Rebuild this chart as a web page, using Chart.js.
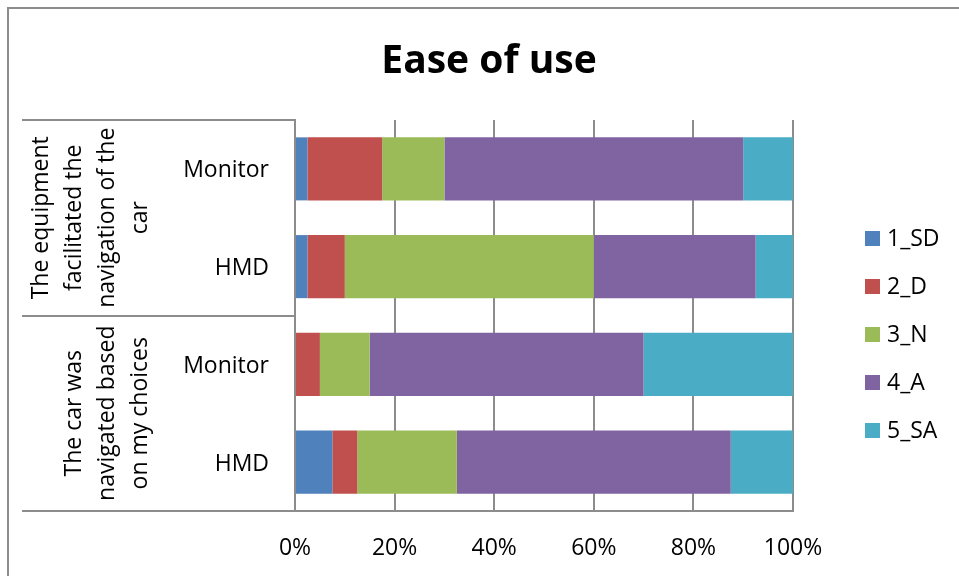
<!DOCTYPE html>
<html>
<head>
<meta charset="utf-8">
<script src="https://cdn.jsdelivr.net/npm/chart.js@4"></script>
<style>
  body { margin: 0; background: #fff; }
</style>
</head>
<body>
<canvas id="easeChart" width="959" height="576"></canvas>
<script>
// values in percent of respondents
var categories = ['Monitor', 'HMD', 'Monitor', 'HMD'];
var groupLabels = [
  ['The equipment', 'facilitated the', 'navigation of the', 'car'],
  ['The car was', 'navigated based', 'on my choices']
];
var seriesNames = ['1_SD', '2_D', '3_N', '4_A', '5_SA'];
var sd = [2.5, 2.5, 0, 7.5];
var dis = [15, 7.5, 5, 5];
var neu = [12.5, 50, 10, 20];
var agr = [60, 32.5, 55, 55];
var sa = [10, 7.5, 30, 12.5];
var xTicks = [0, 20, 40, 60, 80, 100];

var colors = ['#4F81BD', '#C0504D', '#9BBB59', '#8064A2', '#4BACC6'];
var font = '"Open Sans", sans-serif';
var lineColor = '#8c8c8c';

var extras = {
  id: 'extras',
  afterDraw: function(chart) {
    var c = chart.ctx, area = chart.chartArea, y = chart.scales.y;
    c.save();
    // outer frame
    c.strokeStyle = lineColor;
    c.lineWidth = 2;
    c.beginPath();
    c.moveTo(8, 1000); c.lineTo(8, 8); c.lineTo(1000, 8);
    c.stroke();

    // title
    c.fillStyle = '#000';
    c.font = 'bold 39px ' + font;
    c.textAlign = 'center';
    c.textBaseline = 'alphabetic';
    c.fillText('Ease of use', 489, 73);

    // group boxes on the category axis
    var half = (y.getPixelForValue(1) - y.getPixelForValue(0)) / 2;
    c.beginPath();
    for (var g = 0; g <= groupLabels.length; g++) {
      var py = g < groupLabels.length ? y.getPixelForValue(g * 2) - half : area.bottom;
      c.moveTo(22, Math.round(py));
      c.lineTo(area.left, Math.round(py));
    }
    c.stroke();

    c.font = '23px ' + font;
    c.textBaseline = 'middle';
    groupLabels.forEach(function(lines, g) {
      var top = y.getPixelForValue(g * 2) - half;
      var bottom = y.getPixelForValue(g * 2 + 1) + half;
      var cy = (top + bottom) / 2;
      lines.forEach(function(txt, i) {
        var cx = 140 - (lines.length - 1 - i) * 33;
        c.save();
        c.translate(cx, cy);
        c.rotate(-Math.PI / 2);
        c.fillText(txt, 0, 0);
        c.restore();
      });
    });

    // legend
    c.textAlign = 'left';
    chart.data.datasets.forEach(function(ds, i) {
      var ly = 238 + i * 48;
      c.fillStyle = ds.backgroundColor;
      c.fillRect(865, ly - 7, 15, 15);
      c.fillStyle = '#000';
      c.fillText(ds.label, 887, ly + 1);
    });
    c.restore();
  }
};

var ctx = document.getElementById('easeChart').getContext('2d');
var easeChart = new Chart(ctx, {
  type: 'bar',
  data: {
    labels: categories,
    datasets: [sd, dis, neu, agr, sa].map(function(vals, i) {
      return {
        label: seriesNames[i],
        data: vals,
        backgroundColor: colors[i],
        borderWidth: 0,
        barPercentage: 0.645,
        categoryPercentage: 1
      };
    })
  },
  options: {
    indexAxis: 'y',
    responsive: false,
    animation: false,
    devicePixelRatio: 1,
    layout: { padding: { left: 0, top: 120, right: 166, bottom: 0 } },
    plugins: {
      legend: { display: false },
      title: { display: false },
      tooltip: { enabled: false }
    },
    scales: {
      x: {
        stacked: true,
        min: 0,
        max: 100,
        afterFit: function(s) { s.height = 65; },
        afterBuildTicks: function(s) { s.ticks = xTicks.map(function(v) { return { value: v }; }); },
        ticks: {
          padding: 24,
          color: '#000',
          font: { family: font, size: 23 },
          callback: function(v) { return v + '%'; }
        },
        grid: { color: lineColor, lineWidth: 2, drawTicks: false },
        border: { color: lineColor, width: 2 }
      },
      y: {
        stacked: true,
        afterFit: function(s) { s.width = 295; },
        ticks: {
          padding: 26,
          labelOffset: 2,
          color: '#000',
          font: { family: font, size: 23 }
        },
        grid: { display: false, drawTicks: false },
        border: { color: lineColor, width: 2 }
      }
    }
  },
  plugins: [extras]
});
</script>
</body>
</html>
